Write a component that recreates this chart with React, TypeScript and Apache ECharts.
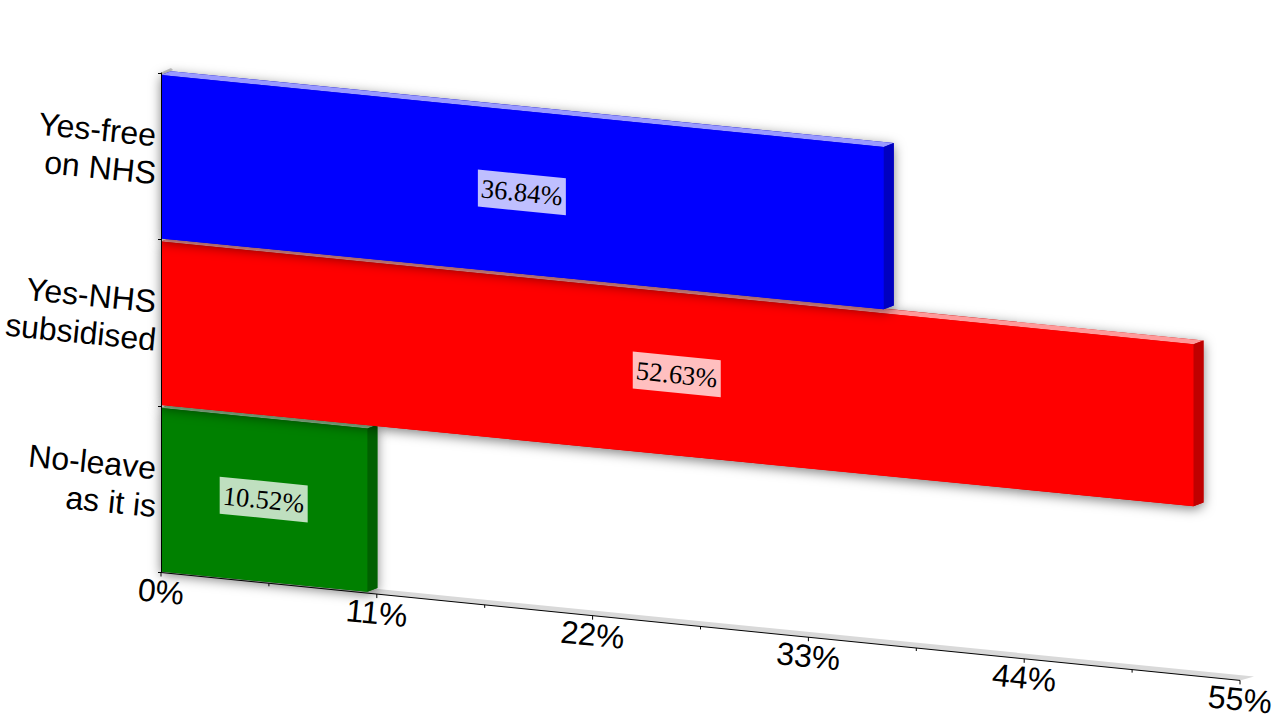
import React, { useEffect, useRef } from "react";
import * as echarts from "echarts";

const categories = ["No-leave", "Yes-NHS", "Yes-free"];
const categoryLines = [
  ["No-leave", "as it is"],
  ["Yes-NHS", "subsidised"],
  ["Yes-free", "on NHS"],
];
const percentValues = [10.52, 52.63, 36.84];
const percentLabels = ["10.52%", "52.63%", "36.84%"];
const majorTicks = [0, 11, 22, 33, 44, 55];
const majorTickLabels = ["0%", "11%", "22%", "33%", "44%", "55%"];
const minorTicks = [5.5, 16.5, 27.5, 38.5, 49.5];
const frontColors = ["#008000", "#ff0000", "#0000ff"];
const sideColors = ["#006000", "#c00000", "#0000c0"];
const topColors = ["#99cc99", "#ff9999", "#9999ff"];

const SLOPE = 0.1;
const BAR_TOP_SLOPE = 0.0995;
const BAR_BOTTOM_SLOPE = 0.098;
const ANGLE = -Math.atan(SLOPE);
const DEPTH_X = 10;
const DEPTH_Y = -3.8;
const SANS = '"Liberation Sans", Arial, sans-serif';
const SERIF = '"Liberation Serif", "Times New Roman", serif';

function App() {
  const ref = useRef<HTMLDivElement>(null);
  useEffect(() => {
    document.body.style.margin = "0";
    const chart = echarts.init(ref.current!, undefined, { renderer: "svg" });

    const floorEdge = (api: any, v: number) => {
      const band = api.size([0, 1])[1];
      const x0 = api.coord([0, 0])[0];
      const p = api.coord([v, 0]);
      return [p[0], p[1] + band / 2 + (p[0] - x0) * SLOPE];
    };

    chart.setOption({
      animation: false,
      backgroundColor: "#ffffff",
      grid: { left: 161, top: 73, width: 1079, height: 499.5, containLabel: false },
      xAxis: { type: "value", min: 0, max: 55, interval: 11, show: false },
      yAxis: {
        type: "category",
        data: categories,
        z: 5,
        axisLine: { show: true, lineStyle: { color: "#000000", width: 1 } },
        axisTick: { show: true, length: 3, lineStyle: { color: "#000000", width: 1 } },
        axisLabel: { show: false },
        splitLine: { show: false },
      },
      series: [
        {
          type: "custom",
          coordinateSystem: "cartesian2d",
          silent: true,
          clip: false,
          z: 1,
          data: [[55, 0]],
          encode: { x: 0, y: 1 },
          renderItem: (_p: any, api: any) => {
            const a = floorEdge(api, 0);
            const b = floorEdge(api, api.value(0));
            const top = api.coord([0, 2]);
            const band = api.size([0, 1])[1];
            const wy = top[1] - band / 2;
            return {
              type: "group",
              children: [
                {
                  type: "polygon",
                  shape: {
                    points: [a, [a[0] + 12, a[1] - 4], [b[0] + 14, b[1] - 4], b],
                  },
                  style: { fill: "#d9d9d9" },
                },
                {
                  type: "polygon",
                  shape: {
                    points: [
                      [a[0] - 1, wy],
                      [a[0] + 10, wy - 5],
                      [a[0] + 12, wy - 3],
                      [a[0] + 2, wy + 2],
                    ],
                  },
                  style: { fill: "#c4c4c4" },
                },
                {
                  type: "line",
                  shape: { x1: a[0], y1: a[1], x2: b[0], y2: b[1] },
                  style: { stroke: "#000000", lineWidth: 1 },
                },
              ],
            };
          },
        },
        {
          type: "custom",
          coordinateSystem: "cartesian2d",
          silent: true,
          clip: false,
          z: 1,
          data: minorTicks.map((v) => [v, 0]),
          encode: { x: 0, y: 1 },
          renderItem: (_p: any, api: any) => {
            const a = floorEdge(api, api.value(0));
            return {
              type: "line",
              shape: { x1: a[0], y1: a[1], x2: a[0], y2: a[1] + 3 },
              style: { stroke: "#000000", lineWidth: 1 },
            };
          },
        },
        {
          type: "custom",
          coordinateSystem: "cartesian2d",
          silent: true,
          clip: false,
          z: 1,
          data: majorTicks.map((v) => [v, 0]),
          encode: { x: 0, y: 1 },
          renderItem: (p: any, api: any) => {
            const a = floorEdge(api, api.value(0));
            return {
              type: "group",
              children: [
                {
                  type: "line",
                  shape: { x1: a[0], y1: a[1], x2: a[0], y2: a[1] + 4 },
                  style: { stroke: "#000000", lineWidth: 1 },
                },
                {
                  type: "text",
                  x: a[0],
                  y: a[1] + 19,
                  rotation: ANGLE,
                  style: {
                    text: majorTickLabels[p.dataIndex],
                    fontSize: 32,
                    fontFamily: SANS,
                    fill: "#000000",
                    align: "center",
                    verticalAlign: "middle",
                  },
                },
              ],
            };
          },
        },
        {
          type: "custom",
          coordinateSystem: "cartesian2d",
          silent: true,
          clip: false,
          z: 1,
          data: categories.map((_c, i) => [0, i]),
          encode: { x: 0, y: 1 },
          renderItem: (p: any, api: any) => {
            const [x, y] = api.coord([0, api.value(1)]);
            const lines = categoryLines[p.dataIndex];
            const text = (s: string, dy: number) => ({
              type: "text",
              x: x - 5,
              y: y + dy,
              rotation: ANGLE,
              style: {
                text: s,
                fontSize: 32,
                fontFamily: SANS,
                fill: "#000000",
                align: "right",
                verticalAlign: "middle",
              },
            });
            return { type: "group", children: [text(lines[0], -21), text(lines[1], 17)] };
          },
        },
        {
          type: "custom",
          coordinateSystem: "cartesian2d",
          silent: true,
          clip: false,
          z: 3,
          data: percentValues.map((v, i) => [v, i]),
          encode: { x: 0, y: 1 },
          renderItem: (p: any, api: any) => {
            const i = p.dataIndex;
            const v = api.value(0);
            const c = api.value(1);
            const x0 = api.coord([0, c])[0];
            const [x1, yBand] = api.coord([v, c]);
            const yc = yBand + 0.5;
            const h = api.size([0, 1])[1] * 0.982;
            const tl = [x0, yc - h / 2];
            const tr = [x1, yc - h / 2 + (x1 - x0) * BAR_TOP_SLOPE];
            const br = [x1, yc + h / 2 + (x1 - x0) * BAR_BOTTOM_SLOPE];
            const bl = [x0, yc + h / 2];
            const back = (q: number[]) => [q[0] + DEPTH_X, q[1] + DEPTH_Y];
            const mx = (x0 + x1) / 2 - 0.5;
            const my = yc + ((x1 - x0) * SLOPE) / 2 - 0.5;
            const lw = 44;
            const lh = 18.5;
            const lsk = lw * SLOPE;
            return {
              type: "group",
              children: [
                {
                  type: "polygon",
                  shape: { points: [tl, back(tl), back(tr), back(br), br, bl] },
                  style: {
                    fill: sideColors[i],
                    shadowBlur: 12,
                    shadowColor: "rgba(0,0,0,0.5)",
                    shadowOffsetY: 3,
                  },
                },
                {
                  type: "polygon",
                  shape: { points: [tl, back(tl), back(tr), tr] },
                  style: { fill: topColors[i] },
                },
                {
                  type: "polygon",
                  shape: { points: [tr, back(tr), back(br), br] },
                  style: { fill: sideColors[i] },
                },
                {
                  type: "polygon",
                  shape: { points: [tl, tr, br, bl] },
                  style: { fill: frontColors[i] },
                },
                {
                  type: "polygon",
                  shape: {
                    points: [
                      [mx - lw, my - lh - lsk],
                      [mx + lw, my - lh + lsk],
                      [mx + lw, my + lh + lsk],
                      [mx - lw, my + lh - lsk],
                    ],
                  },
                  style: { fill: "rgba(255,255,255,0.75)" },
                },
                {
                  type: "text",
                  x: mx,
                  y: my,
                  rotation: ANGLE,
                  style: {
                    text: percentLabels[i],
                    fontSize: 26.5,
                    fontFamily: SERIF,
                    fill: "#000000",
                    align: "center",
                    verticalAlign: "middle",
                  },
                },
              ],
            };
          },
        },
      ],
    });
    return () => chart.dispose();
  }, []);
  return (
    <div
      ref={ref}
      style={{ position: "absolute", left: 0, top: 0, width: 1280, height: 720 }}
    />
  );
}

export default App;
